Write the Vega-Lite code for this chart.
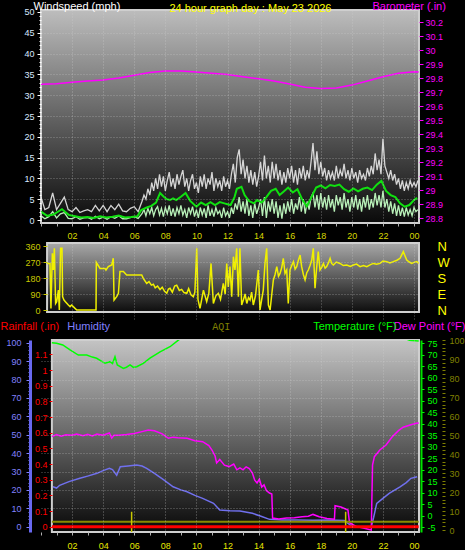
{
 "$schema": "https://vega.github.io/schema/vega-lite/v6.json",
 "background": "#000000",
 "padding": 0,
 "title": {"text": "24 hour graph day : May 23 2026", "color": "#ffff00", "font": "Liberation Sans", "fontSize": 11, "fontWeight": "normal", "anchor": "middle", "dx": 18, "offset": -14},
 "spacing": 20,
 "bounds": "flush",
 "config": {
  "view": {"stroke": null},
  "axis": {"labelOverlap": false, "labelFlush": false, "labelFont": "Liberation Sans Narrow, Liberation Sans, sans-serif", "labelFontSize": 9, "titleFont": "Liberation Sans", "titleFontWeight": "normal", "titleFontSize": 11}
 },
 "datasets": {
  "wind": [{"h":0,"g":5.5,"a":1.0},{"h":0.25,"g":2.5,"a":0.3},{"h":0.5,"g":3.0,"a":0.8},{"h":0.75,"g":6.5,"a":2.0},{"h":1,"g":2.5,"a":0.5},{"h":1.25,"g":4.0,"a":1.5},{"h":1.5,"g":5.5,"a":1.8},{"h":1.75,"g":2.5,"a":0.4},{"h":2,"g":2.0,"a":0.3},{"h":2.25,"g":3.0,"a":0.8},{"h":2.5,"g":1.8,"a":0.2},{"h":2.75,"g":2.2,"a":0.5},{"h":3,"g":2.5,"a":0.6},{"h":3.25,"g":2.0,"a":0.2},{"h":3.5,"g":3.5,"a":0.9},{"h":3.75,"g":2.2,"a":0.3},{"h":4,"g":3.5,"a":0.7},{"h":4.25,"g":2.0,"a":0.2},{"h":4.5,"g":3.5,"a":0.8},{"h":4.75,"g":2.5,"a":0.4},{"h":5,"g":3.8,"a":1.0},{"h":5.25,"g":2.2,"a":0.3},{"h":5.5,"g":2.0,"a":0.3},{"h":5.75,"g":2.8,"a":0.6},{"h":6,"g":3.2,"a":0.8},{"h":6.25,"g":2.0,"a":0.4},
   {"h":6.5,"g":4.5,"a":1.5},{"h":6.625,"g":6.0,"a":2.5},{"h":6.75,"g":5.0,"a":1.0},{"h":6.875,"g":7.5,"a":2.8},{"h":7.0,"g":6.0,"a":1.5},{"h":7.125,"g":9.0,"a":3.0},{"h":7.25,"g":7.0,"a":1.0},{"h":7.375,"g":10.0,"a":2.5},{"h":7.5,"g":7.5,"a":3.2},{"h":7.625,"g":11.0,"a":1.2},{"h":7.75,"g":8.0,"a":2.8},{"h":7.875,"g":10.5,"a":0.8},{"h":8.0,"g":7.0,"a":3.0},{"h":8.125,"g":9.5,"a":1.5},{"h":8.25,"g":11.5,"a":3.5},{"h":8.375,"g":8.0,"a":1.0},{"h":8.5,"g":10.0,"a":2.8},{"h":8.625,"g":7.5,"a":0.8},{"h":8.75,"g":11.0,"a":3.0},{"h":8.875,"g":8.5,"a":1.5},{"h":9.0,"g":10.5,"a":3.5},{"h":9.125,"g":12.0,"a":1.2},{"h":9.25,"g":8.0,"a":2.5},{"h":9.375,"g":10.0,"a":0.5},{"h":9.5,"g":7.0,"a":3.0},{"h":9.625,"g":9.5,"a":1.5},{"h":9.75,"g":11.0,"a":3.2},{"h":9.875,"g":7.5,"a":0.8},{"h":10.0,"g":9.0,"a":2.5},{"h":10.125,"g":6.5,"a":0.5},{"h":10.25,"g":10.5,"a":3.0},{"h":10.375,"g":8.0,"a":1.2},{"h":10.5,"g":11.0,"a":2.8},{"h":10.625,"g":7.5,"a":0.5},{"h":10.75,"g":10.0,"a":3.5},{"h":10.875,"g":8.5,"a":1.0},{"h":11.0,"g":11.5,"a":2.5},{"h":11.125,"g":7.0,"a":0.8},{"h":11.25,"g":10.0,"a":3.0},{"h":11.375,"g":8.0,"a":1.5},{"h":11.5,"g":9.5,"a":2.2},{"h":11.625,"g":7.0,"a":0.5},{"h":11.75,"g":10.5,"a":3.0},{"h":11.875,"g":8.0,"a":1.0},{"h":12.0,"g":9.5,"a":2.0},{"h":12.125,"g":7.5,"a":0.5},{"h":12.25,"g":11.0,"a":3.0},{"h":12.375,"g":13.5,"a":1.5},{"h":12.5,"g":9.0,"a":4.0},{"h":12.625,"g":15.0,"a":2.5},{"h":12.75,"g":17.0,"a":5.5},{"h":12.875,"g":11.0,"a":2.0},{"h":13.0,"g":14.5,"a":4.5},{"h":13.125,"g":10.0,"a":1.5},{"h":13.25,"g":13.0,"a":5.0},{"h":13.375,"g":9.0,"a":1.0},{"h":13.5,"g":12.0,"a":3.5},{"h":13.625,"g":8.5,"a":0.5},{"h":13.75,"g":11.5,"a":4.0},{"h":13.875,"g":8.0,"a":1.5},{"h":14.0,"g":10.5,"a":3.0},{"h":14.125,"g":14.0,"a":5.0},{"h":14.25,"g":9.5,"a":1.0},{"h":14.375,"g":15.5,"a":5.5},{"h":14.5,"g":10.0,"a":0.5},{"h":14.625,"g":13.0,"a":4.5},{"h":14.75,"g":9.0,"a":2.0},{"h":14.875,"g":14.0,"a":5.0},{"h":15.0,"g":10.0,"a":1.5},{"h":15.125,"g":13.5,"a":4.5},{"h":15.25,"g":9.5,"a":0.5},{"h":15.375,"g":12.0,"a":3.5},{"h":15.5,"g":8.5,"a":0.3},{"h":15.625,"g":11.5,"a":4.0},{"h":15.75,"g":9.0,"a":1.5},{"h":15.875,"g":12.5,"a":4.5},{"h":16.0,"g":10.0,"a":2.0},{"h":16.125,"g":13.0,"a":5.0},{"h":16.25,"g":9.0,"a":1.5},{"h":16.375,"g":12.0,"a":4.0},{"h":16.5,"g":8.5,"a":2.5},{"h":16.625,"g":12.5,"a":5.5},{"h":16.75,"g":10.0,"a":2.0},{"h":16.875,"g":13.0,"a":5.0},{"h":17.0,"g":9.5,"a":1.5},{"h":17.125,"g":12.0,"a":4.5},{"h":17.25,"g":10.0,"a":2.5},{"h":17.375,"g":14.0,"a":5.5},{"h":17.5,"g":18.5,"a":6.5},{"h":17.625,"g":12.0,"a":3.0},{"h":17.75,"g":16.5,"a":6.0},{"h":17.875,"g":11.0,"a":2.5},{"h":18.0,"g":14.0,"a":6.5},{"h":18.125,"g":10.5,"a":3.0},{"h":18.25,"g":12.5,"a":5.5},{"h":18.375,"g":9.5,"a":2.5},{"h":18.5,"g":12.0,"a":6.0},{"h":18.625,"g":10.0,"a":3.0},{"h":18.75,"g":11.5,"a":5.0},{"h":18.875,"g":9.5,"a":2.0},{"h":19.0,"g":13.0,"a":6.0},{"h":19.125,"g":10.0,"a":3.5},{"h":19.25,"g":12.0,"a":5.5},{"h":19.375,"g":10.5,"a":2.5},{"h":19.5,"g":13.5,"a":6.5},{"h":19.625,"g":10.0,"a":3.0},{"h":19.75,"g":12.0,"a":5.0},{"h":19.875,"g":9.5,"a":2.0},{"h":20.0,"g":12.5,"a":5.5},{"h":20.125,"g":10.0,"a":3.0},{"h":20.25,"g":11.5,"a":6.0},{"h":20.375,"g":9.0,"a":2.5},{"h":20.5,"g":12.0,"a":5.0},{"h":20.625,"g":10.0,"a":2.0},{"h":20.75,"g":11.0,"a":5.5},{"h":20.875,"g":9.5,"a":3.0},{"h":21.0,"g":12.5,"a":6.0},{"h":21.125,"g":10.5,"a":2.5},{"h":21.25,"g":13.0,"a":5.0},{"h":21.375,"g":11.0,"a":3.0},{"h":21.5,"g":16.0,"a":6.5},{"h":21.625,"g":12.0,"a":3.5},{"h":21.75,"g":14.5,"a":6.0},{"h":21.875,"g":11.0,"a":3.0},{"h":22.0,"g":19.5,"a":7.0},{"h":22.125,"g":13.0,"a":3.0},{"h":22.25,"g":11.5,"a":5.0},{"h":22.375,"g":10.0,"a":2.0},{"h":22.5,"g":12.0,"a":4.5},{"h":22.625,"g":9.5,"a":1.5},{"h":22.75,"g":11.0,"a":4.0},{"h":22.875,"g":8.5,"a":1.0},{"h":23.0,"g":10.0,"a":3.5},{"h":23.125,"g":7.5,"a":1.0},{"h":23.25,"g":9.5,"a":3.0},{"h":23.375,"g":7.0,"a":0.8},{"h":23.5,"g":9.0,"a":3.0},{"h":23.625,"g":7.5,"a":1.2},{"h":23.75,"g":9.5,"a":2.5},{"h":23.875,"g":8.0,"a":1.0},{"h":24.0,"g":9.0,"a":3.0},{"h":24.125,"g":8.0,"a":2.0},{"h":24.25,"g":9.5,"a":2.5}],
  "smooth": [{"h":0,"v":2.0},{"h":0.4,"v":1.0},{"h":0.8,"v":1.3},{"h":1.35,"v":2.6},{"h":1.8,"v":1.2},{"h":2.2,"v":0.9},{"h":2.6,"v":0.6},{"h":3.0,"v":0.7},{"h":3.4,"v":0.5},{"h":3.8,"v":0.9},{"h":4.2,"v":0.6},{"h":4.6,"v":0.8},{"h":5.0,"v":1.1},{"h":5.4,"v":0.6},{"h":5.8,"v":0.7},{"h":6.2,"v":0.9},{"h":6.45,"v":2.4},{"h":6.8,"v":3.0},{"h":7.1,"v":3.4},{"h":7.4,"v":4.2},{"h":7.66,"v":6.5},{"h":7.9,"v":5.6},{"h":8.1,"v":5.0},{"h":8.3,"v":4.8},{"h":8.5,"v":5.2},{"h":8.7,"v":4.8},{"h":9.0,"v":5.6},{"h":9.3,"v":6.5},{"h":9.6,"v":4.6},{"h":10.0,"v":3.2},{"h":10.3,"v":4.2},{"h":10.6,"v":3.6},{"h":10.9,"v":4.3},{"h":11.2,"v":3.6},{"h":11.5,"v":4.3},{"h":11.8,"v":4.0},{"h":12.0,"v":3.8},{"h":12.2,"v":3.6},{"h":12.45,"v":5.5},{"h":12.6,"v":7.5},{"h":12.9,"v":8.0},{"h":13.1,"v":6.0},{"h":13.4,"v":4.5},{"h":13.7,"v":4.0},{"h":13.9,"v":4.8},{"h":14.2,"v":4.2},{"h":14.5,"v":5.5},{"h":14.8,"v":7.0},{"h":15.1,"v":7.5},{"h":15.35,"v":6.0},{"h":15.6,"v":6.8},{"h":15.9,"v":7.8},{"h":16.2,"v":6.6},{"h":16.5,"v":7.4},{"h":16.8,"v":5.0},{"h":17.1,"v":3.3},{"h":17.4,"v":5.5},{"h":17.7,"v":7.8},{"h":18.0,"v":8.3},{"h":18.3,"v":7.6},{"h":18.6,"v":8.4},{"h":18.9,"v":8.2},{"h":19.2,"v":8.5},{"h":19.5,"v":7.4},{"h":19.8,"v":6.8},{"h":20.1,"v":7.6},{"h":20.4,"v":6.9},{"h":20.7,"v":7.5},{"h":21.0,"v":7.8},{"h":21.3,"v":7.2},{"h":21.6,"v":8.5},{"h":21.9,"v":9.4},{"h":22.2,"v":7.0},{"h":22.5,"v":6.0},{"h":22.8,"v":5.5},{"h":23.1,"v":4.0},{"h":23.4,"v":3.2},{"h":23.7,"v":3.6},{"h":24.0,"v":4.8},{"h":24.2,"v":5.3}],
  "baro": [{"h":0,"p":29.757},{"h":1,"p":29.76},{"h":2,"p":29.77},{"h":3,"p":29.78},{"h":4,"p":29.787},{"h":5,"p":29.80},{"h":6,"p":29.82},{"h":7,"p":29.84},{"h":8,"p":29.85},{"h":9,"p":29.85},{"h":10,"p":29.843},{"h":11,"p":29.835},{"h":12,"p":29.825},{"h":13,"p":29.81},{"h":14,"p":29.795},{"h":15,"p":29.78},{"h":16,"p":29.758},{"h":17,"p":29.735},{"h":18,"p":29.725},{"h":19,"p":29.73},{"h":20,"p":29.75},{"h":21,"p":29.78},{"h":22,"p":29.81},{"h":23,"p":29.835},{"h":24,"p":29.845},{"h":24.3,"p":29.843}],
  "dir": [{"h":0.39,"d":262},{"h":0.58,"d":262},{"h":0.64,"d":9},{"h":0.73,"d":319},{"h":0.79,"d":225},{"h":0.86,"d":347},{"h":0.94,"d":37},{"h":1.01,"d":47},{"h":1.12,"d":112},{"h":1.18,"d":0},{"h":1.26,"d":347},{"h":1.35,"d":347},{"h":1.39,"d":75},{"h":1.48,"d":56},{"h":1.57,"d":47},{"h":1.76,"d":28},{"h":1.87,"d":19},{"h":1.97,"d":28},{"h":2.19,"d":9},{"h":2.3,"d":0},{"h":3.54,"d":0},{"h":3.56,"d":268},{"h":3.8,"d":234},{"h":4.12,"d":234},{"h":4.18,"d":225},{"h":4.33,"d":244},{"h":4.55,"d":253},{"h":4.65,"d":291},{"h":4.7,"d":56},{"h":4.87,"d":75},{"h":4.98,"d":94},{"h":5.08,"d":216},{"h":5.3,"d":216},{"h":5.51,"d":197},{"h":6.48,"d":197},{"h":6.58,"d":178},{"h":6.8,"d":150},{"h":6.95,"d":160},{"h":7.1,"d":140},{"h":7.23,"d":145},{"h":7.35,"d":125},{"h":7.5,"d":135},{"h":7.66,"d":115},{"h":7.8,"d":128},{"h":7.95,"d":105},{"h":8.09,"d":94},{"h":8.2,"d":118},{"h":8.3,"d":122},{"h":8.45,"d":100},{"h":8.6,"d":135},{"h":8.73,"d":140},{"h":8.9,"d":110},{"h":9.05,"d":116},{"h":9.2,"d":98},{"h":9.38,"d":94},{"h":9.5,"d":120},{"h":9.65,"d":85},{"h":9.8,"d":75},{"h":9.9,"d":100},{"h":10.02,"d":347},{"h":10.1,"d":60},{"h":10.23,"d":9},{"h":10.45,"d":112},{"h":10.66,"d":47},{"h":10.8,"d":95},{"h":10.94,"d":262},{"h":11.09,"d":37},{"h":11.25,"d":80},{"h":11.41,"d":94},{"h":11.55,"d":60},{"h":11.73,"d":150},{"h":11.85,"d":90},{"h":11.95,"d":262},{"h":12.05,"d":130},{"h":12.16,"d":244},{"h":12.27,"d":75},{"h":12.38,"d":300},{"h":12.48,"d":225},{"h":12.59,"d":347},{"h":12.7,"d":75},{"h":12.8,"d":347},{"h":12.91,"d":28},{"h":13.02,"d":56},{"h":13.13,"d":90},{"h":13.24,"d":37},{"h":13.35,"d":70},{"h":13.45,"d":56},{"h":13.55,"d":100},{"h":13.66,"d":28},{"h":13.8,"d":80},{"h":13.98,"d":225},{"h":14.09,"d":0},{"h":14.2,"d":60},{"h":14.3,"d":112},{"h":14.41,"d":262},{"h":14.52,"d":347},{"h":14.63,"d":28},{"h":14.74,"d":0},{"h":14.85,"d":90},{"h":14.95,"d":169},{"h":15.06,"d":200},{"h":15.17,"d":244},{"h":15.28,"d":190},{"h":15.38,"d":206},{"h":15.49,"d":240},{"h":15.59,"d":291},{"h":15.7,"d":206},{"h":15.81,"d":225},{"h":15.91,"d":37},{"h":16.02,"d":225},{"h":16.13,"d":250},{"h":16.24,"d":272},{"h":16.35,"d":230},{"h":16.45,"d":244},{"h":16.56,"d":280},{"h":16.67,"d":309},{"h":16.77,"d":244},{"h":16.88,"d":200},{"h":16.99,"d":169},{"h":17.1,"d":210},{"h":17.2,"d":225},{"h":17.31,"d":250},{"h":17.42,"d":281},{"h":17.52,"d":347},{"h":17.63,"d":122},{"h":17.74,"d":244},{"h":17.84,"d":328},{"h":17.95,"d":225},{"h":18.06,"d":240},{"h":18.17,"d":262},{"h":18.28,"d":235},{"h":18.38,"d":244},{"h":18.49,"d":265},{"h":18.6,"d":291},{"h":18.7,"d":262},{"h":18.81,"d":253},{"h":19.0,"d":270},{"h":19.24,"d":262},{"h":19.45,"d":250},{"h":19.67,"d":253},{"h":19.9,"d":245},{"h":20.1,"d":253},{"h":20.3,"d":258},{"h":20.53,"d":244},{"h":20.75,"d":250},{"h":20.96,"d":244},{"h":21.2,"d":255},{"h":21.38,"d":262},{"h":21.6,"d":258},{"h":21.81,"d":262},{"h":22.0,"d":275},{"h":22.25,"d":272},{"h":22.45,"d":265},{"h":22.67,"d":272},{"h":22.9,"d":280},{"h":23.1,"d":291},{"h":23.31,"d":328},{"h":23.53,"d":281},{"h":23.7,"d":270},{"h":23.85,"d":262},{"h":24.0,"d":268},{"h":24.18,"d":272},{"h":24.3,"d":262}],
  "temp": [{"h":0.7,"v":75.2},{"h":1.0,"v":75.0},{"h":1.4,"v":74.3},{"h":1.87,"v":72.1},{"h":2.4,"v":69.9},{"h":2.94,"v":69.9},{"h":3.3,"v":69.0},{"h":3.58,"v":68.5},{"h":4.12,"v":66.3},{"h":4.44,"v":67.0},{"h":4.6,"v":66.2},{"h":4.76,"v":69.2},{"h":4.91,"v":65.6},{"h":5.3,"v":64.1},{"h":5.5,"v":64.6},{"h":5.73,"v":65.6},{"h":5.95,"v":64.5},{"h":6.16,"v":64.8},{"h":6.58,"v":66.3},{"h":7.01,"v":68.5},{"h":7.66,"v":71.3},{"h":8.3,"v":73.5},{"h":8.84,"v":76.4},{"h":9.5,"v":79.5},{"h":11,"v":85},{"h":13,"v":88},{"h":15,"v":89},{"h":17,"v":88},{"h":19,"v":86},{"h":21,"v":83},{"h":22.5,"v":79.5},{"h":23.4,"v":77.2},{"h":23.7,"v":76.3},{"h":24.3,"v":76.0}],
  "dew": [{"h":0.7,"v":34.4},{"h":1.0,"v":35.3},{"h":1.3,"v":34.6},{"h":1.6,"v":35.2},{"h":2.0,"v":35.0},{"h":2.3,"v":35.6},{"h":2.7,"v":34.8},{"h":3.0,"v":35.4},{"h":3.3,"v":34.7},{"h":3.6,"v":35.5},{"h":4.0,"v":35.0},{"h":4.4,"v":36.0},{"h":4.55,"v":33.8},{"h":4.7,"v":35.0},{"h":5.0,"v":35.0},{"h":5.5,"v":35.3},{"h":6.0,"v":35.8},{"h":6.5,"v":36.6},{"h":6.9,"v":37.3},{"h":7.3,"v":37.0},{"h":7.8,"v":35.6},{"h":8.2,"v":33.7},{"h":8.5,"v":34.2},{"h":8.8,"v":33.9},{"h":9.4,"v":33.7},{"h":9.9,"v":32.6},{"h":10.4,"v":32.2},{"h":10.8,"v":30.5},{"h":11.0,"v":28.6},{"h":11.2,"v":26.0},{"h":11.3,"v":23.0},{"h":11.5,"v":24.5},{"h":11.8,"v":22.0},{"h":12.1,"v":21.4},{"h":12.4,"v":22.5},{"h":12.6,"v":20.0},{"h":12.8,"v":20.8},{"h":13.0,"v":20.0},{"h":13.2,"v":21.3},{"h":13.4,"v":20.5},{"h":13.6,"v":18.6},{"h":13.75,"v":15.5},{"h":13.9,"v":14.3},{"h":14.05,"v":16.0},{"h":14.2,"v":12.5},{"h":14.35,"v":13.5},{"h":14.5,"v":11.0},{"h":14.7,"v":9.9},{"h":14.85,"v":9.5},{"h":14.9,"v":-1.0},{"h":15.3,"v":-1.4},{"h":15.8,"v":-1.0},{"h":16.3,"v":-0.8},{"h":16.8,"v":-0.4},{"h":17.2,"v":-0.2},{"h":17.5,"v":0.6},{"h":17.9,"v":-0.4},{"h":18.4,"v":-1.2},{"h":18.88,"v":-1.5},{"h":18.92,"v":4.4},{"h":19.3,"v":3.8},{"h":19.75,"v":2.5},{"h":19.85,"v":-3.0},{"h":20.3,"v":-4.7},{"h":20.8,"v":-5.4},{"h":21.25,"v":-6.2},{"h":21.33,"v":22.0},{"h":21.45,"v":25.7},{"h":21.8,"v":28.6},{"h":22.2,"v":30.8},{"h":22.6,"v":34.4},{"h":23.0,"v":37.0},{"h":23.3,"v":38.5},{"h":23.8,"v":39.6},{"h":24.15,"v":40.2},{"h":24.3,"v":40.3}],
  "hum": [{"h":0.77,"v":21.7},{"h":1.0,"v":21.0},{"h":1.2,"v":22.5},{"h":1.8,"v":24.5},{"h":2.5,"v":26.3},{"h":3.0,"v":27.5},{"h":3.6,"v":29.0},{"h":4.0,"v":30.5},{"h":4.4,"v":31.7},{"h":4.6,"v":31.0},{"h":4.87,"v":28.0},{"h":5.1,"v":32.6},{"h":5.6,"v":33.0},{"h":6.15,"v":33.5},{"h":6.5,"v":33.0},{"h":6.8,"v":31.7},{"h":7.3,"v":29.0},{"h":7.9,"v":25.4},{"h":8.5,"v":21.7},{"h":9.0,"v":20.0},{"h":9.4,"v":19.0},{"h":9.9,"v":17.0},{"h":10.4,"v":15.4},{"h":11.1,"v":12.7},{"h":11.5,"v":9.1},{"h":12.15,"v":8.7},{"h":12.8,"v":8.5},{"h":13.6,"v":7.3},{"h":14.2,"v":5.5},{"h":14.7,"v":4.0},{"h":15.5,"v":3.6},{"h":16.5,"v":3.7},{"h":17.5,"v":3.5},{"h":18.5,"v":3.6},{"h":19.5,"v":3.4},{"h":19.9,"v":0.9},{"h":20.3,"v":0},{"h":21.25,"v":0},{"h":21.4,"v":5.0},{"h":21.6,"v":12.7},{"h":22.0,"v":15.4},{"h":22.4,"v":18.1},{"h":23.1,"v":21.7},{"h":23.5,"v":24.0},{"h":23.8,"v":26.3},{"h":24.2,"v":27.2}],
  "rain": [{"h":0.7,"r":0},{"h":24.3,"r":0}],
  "aqi": [{"h":0.7,"a":4.4},{"h":24.3,"a":4.4}],
  "aqispike": [{"h":5.83,"a":9.6},{"h":19.6,"a":9.6}]
 },
 "vconcat": [
  {
   "width": 378, "height": 213,
   "layer": [
    {"data": {"values": [{}]},
     "mark": {"type": "rect", "fill": {"gradient": "linear", "x1": 0, "y1": 0, "x2": 0, "y2": 1, "stops": [{"offset": 0, "color": "#bdbdbd"}, {"offset": 1, "color": "#0a0a0a"}]}, "stroke": "#cfcfcf", "strokeWidth": 2},
     "encoding": {
      "x": {"datum": 0, "type": "quantitative", "scale": {"domain": [0, 24.32], "nice": false, "zero": false},
       "axis": {"values": [0,1,2,3,4,5,6,7,8,9,10,11,12,13,14,15,16,17,18,19,20,21,22,23,24], "tickCount": 500, "labelExpr": "datum.value % 2 == 0 && datum.value > 0 ? (datum.value == 24 ? '00' : (datum.value < 10 ? '0' + datum.value : '' + datum.value)) : ''", "labelOverlap": false, "labelFlush": false, "labelColor": "#d8d800", "labelFontSize": 9, "labelPadding": 5, "tickSize": 3, "tickColor": "#b0b0b0", "domain": false, "grid": true, "gridColor": "#d0d0d0", "gridDash": [1, 2], "gridOpacity": {"condition": {"test": "datum.value % 2 == 0 && datum.value > 0", "value": 0.5}, "value": 0}, "title": null, "zindex": 1}},
      "x2": {"datum": 24.32}
     }},
    {"layer": [
      {"data": {"name": "wind"}, "mark": {"type": "line", "color": "#e8e8e8", "strokeWidth": 1.3, "clip": true, "opacity": 0.9},
       "encoding": {
        "x": {"field": "h", "type": "quantitative", "scale": {"domain": [0, 24.32], "nice": false, "zero": false}},
        "y": {"field": "g", "type": "quantitative", "scale": {"domain": [-0.72, 50.48], "nice": false, "zero": false},
         "axis": {"values": [0,1,2,3,4,5,6,7,8,9,10,11,12,13,14,15,16,17,18,19,20,21,22,23,24,25,26,27,28,29,30,31,32,33,34,35,36,37,38,39,40,41,42,43,44,45,46,47,48,49,50], "tickCount": 500, "labelExpr": "datum.value % 5 == 0 ? '' + datum.value : ''", "labelOverlap": false, "labelColor": "#d8e8ff", "labelFontSize": 9, "labelPadding": 3, "tickColor": "#ffffff", "tickSize": {"condition": {"test": "datum.value % 5 == 0", "value": 4}, "value": 2}, "domain": false, "grid": true, "gridColor": "#d0d0d0", "gridDash": [1, 2], "gridOpacity": {"condition": {"test": "datum.value % 5 == 0 && datum.value > 0 && datum.value < 50", "value": 0.45}, "value": 0}, "title": "Windspeed (mph)", "titleAngle": 0, "titleAlign": "left", "titleBaseline": "middle", "titleX": -8, "titleY": -4, "titleColor": "#ffffff", "zindex": 1}}
       }},
      {"data": {"name": "wind"}, "mark": {"type": "line", "color": "#b8f0b8", "strokeWidth": 1.3, "clip": true},
       "encoding": {
        "x": {"field": "h", "type": "quantitative", "scale": {"domain": [0, 24.32], "nice": false, "zero": false}},
        "y": {"field": "a", "type": "quantitative", "scale": {"domain": [-0.72, 50.48], "nice": false, "zero": false}}
       }},
      {"data": {"name": "smooth"}, "mark": {"type": "line", "color": "#10e010", "strokeWidth": 2, "clip": true},
       "encoding": {
        "x": {"field": "h", "type": "quantitative", "scale": {"domain": [0, 24.32], "nice": false, "zero": false}},
        "y": {"field": "v", "type": "quantitative", "scale": {"domain": [-0.72, 50.48], "nice": false, "zero": false}}
       }}
    ]},
    {"data": {"name": "baro"}, "mark": {"type": "line", "color": "#ff00ff", "strokeWidth": 1.5, "clip": true},
     "encoding": {
      "x": {"field": "h", "type": "quantitative", "scale": {"domain": [0, 24.32], "nice": false, "zero": false}},
      "y": {"field": "p", "type": "quantitative", "scale": {"domain": [28.766, 30.286], "nice": false, "zero": false},
       "axis": {"orient": "right", "values": [28.8,28.9,29,29.1,29.2,29.3,29.4,29.5,29.6,29.7,29.8,29.9,30,30.1,30.2], "tickCount": 500, "labelExpr": "'' + datum.value", "labelOverlap": false, "labelColor": "#ff00ff", "labelFontSize": 9, "labelPadding": 2, "tickColor": "#ff00ff", "tickSize": 4, "domain": false, "grid": false, "title": "Barometer (.in)", "titleAngle": 0, "titleAlign": "left", "titleBaseline": "middle", "titleX": -47, "titleY": -4, "titleColor": "#ff00ff", "zindex": 1}}
     }}
   ],
   "resolve": {"scale": {"y": "independent"}}
  },
  {
   "width": 378, "height": 77,
   "layer": [
    {"data": {"values": [{}]},
     "mark": {"type": "rect", "fill": {"gradient": "linear", "x1": 0, "y1": 0, "x2": 0, "y2": 1, "stops": [{"offset": 0, "color": "#a8a8a8"}, {"offset": 1, "color": "#0d0d0d"}]}, "stroke": "#cfcfcf", "strokeWidth": 2},
     "encoding": {
      "x": {"datum": 0.39, "type": "quantitative", "scale": {"domain": [0, 24.32], "nice": false, "zero": false},
       "axis": {"values": [0,2,4,6,8,10,12,14,16,18,20,22,24], "tickCount": 500, "labels": false, "ticks": false, "domain": false, "grid": true, "gridColor": "#d0d0d0", "gridDash": [1, 2], "gridOpacity": {"condition": {"test": "datum.value > 0", "value": 0.45}, "value": 0}, "title": null, "zindex": 1}},
      "x2": {"datum": 24.32},
      "y": {"datum": -11.25, "type": "quantitative", "scale": {"domain": [-56.25, 376.9], "nice": false, "zero": false},
       "axis": {"orient": "right", "values": [0, 90, 180, 270, 360], "tickCount": 500, "labelExpr": "['N','E','S','W','N'][round(datum.value/90)]", "labelColor": "#ffff00", "labelFont": "Liberation Sans", "labelFontSize": 13, "labelPadding": 18, "labelBaseline": "middle", "labelOverlap": false, "ticks": false, "domain": false, "grid": false, "title": null}},
      "y2": {"datum": 376.9}
     }},
    {"data": {"name": "dir"}, "mark": {"type": "line", "color": "#f0f000", "strokeWidth": 1.5, "clip": true},
     "encoding": {
      "x": {"field": "h", "type": "quantitative", "scale": {"domain": [0, 24.32], "nice": false, "zero": false}},
      "y": {"field": "d", "type": "quantitative", "scale": {"domain": [-56.25, 376.9], "nice": false, "zero": false},
       "axis": {"orient": "left", "offset": -6, "values": [0, 90, 180, 270, 360], "tickCount": 500, "labelExpr": "'' + datum.value", "labelOverlap": false, "labelColor": "#c8c800", "labelFontSize": 9, "labelPadding": 3, "tickColor": "#c8c800", "tickSize": 4, "domain": false, "grid": true, "gridColor": "#d0d0d0", "gridDash": [1, 2], "gridOpacity": {"condition": {"test": "datum.value > 0 && datum.value < 360", "value": 0.45}, "value": 0}, "title": null, "zindex": 1}}
     }}
   ],
   "resolve": {"scale": {"y": "independent"}}
  },
  {
   "width": 378, "height": 192,
   "layer": [
    {"data": {"values": [{}]},
     "mark": {"type": "rect", "fill": {"gradient": "linear", "x1": 0, "y1": 0, "x2": 0, "y2": 1, "stops": [{"offset": 0, "color": "#c4c4c4"}, {"offset": 1, "color": "#080808"}]}, "stroke": "#cfcfcf", "strokeWidth": 2},
     "encoding": {
      "x": {"datum": 0.7, "type": "quantitative", "scale": {"domain": [0, 24.32], "nice": false, "zero": false},
       "axis": {"values": [0,1,2,3,4,5,6,7,8,9,10,11,12,13,14,15,16,17,18,19,20,21,22,23,24], "tickCount": 500, "labelExpr": "datum.value % 2 == 0 && datum.value > 0 ? (datum.value == 24 ? '00' : (datum.value < 10 ? '0' + datum.value : '' + datum.value)) : ''", "labelOverlap": false, "labelFlush": false, "labelColor": "#e8e800", "labelFontSize": 9, "labelPadding": 6, "tickSize": 3, "tickColor": "#b0b0b0", "domain": false, "grid": true, "gridColor": "#d0d0d0", "gridDash": [1, 2], "gridOpacity": {"condition": {"test": "datum.value % 2 == 0 && datum.value > 0", "value": 0.5}, "value": 0}, "title": null, "zindex": 1}},
      "x2": {"datum": 24.32}
     }},
    {"data": {"name": "hum"}, "mark": {"type": "line", "color": "#7070ee", "strokeWidth": 1.5, "clip": true},
     "encoding": {
      "x": {"field": "h", "type": "quantitative", "scale": {"domain": [0, 24.32], "nice": false, "zero": false}},
      "y": {"field": "v", "type": "quantitative", "scale": {"domain": [-2.88, 101.47], "nice": false, "zero": false},
       "axis": {"orient": "left", "offset": 11, "values": [0,2,4,6,8,10,12,14,16,18,20,22,24,26,28,30,32,34,36,38,40,42,44,46,48,50,52,54,56,58,60,62,64,66,68,70,72,74,76,78,80,82,84,86,88,90,92,94,96,98,100], "tickCount": 500, "labelExpr": "datum.value % 10 == 0 ? '' + datum.value : ''", "labelOverlap": false, "labelColor": "#8080ff", "labelFontSize": 9, "labelPadding": 5, "tickColor": "#8080ff", "tickSize": {"condition": {"test": "datum.value % 10 == 0", "value": 4}, "value": 2}, "domain": true, "domainColor": "#6868f0", "domainWidth": 3, "grid": true, "gridColor": "#d0d0d0", "gridDash": [1, 2], "gridOpacity": {"condition": {"test": "datum.value % 10 == 0 && datum.value > 0 && datum.value < 100", "value": 0.45}, "value": 0}, "title": "Humidity", "titleAngle": 0, "titleAlign": "left", "titleBaseline": "middle", "titleX": 36.7, "titleY": -13.3, "titleColor": "#8080ff", "zindex": 1}}
     }},
    {"data": {"name": "dew"}, "mark": {"type": "line", "color": "#ff00ff", "strokeWidth": 1.5, "clip": true},
     "encoding": {
      "x": {"field": "h", "type": "quantitative", "scale": {"domain": [0, 24.32], "nice": false, "zero": false}},
      "y": {"field": "v", "type": "quantitative", "scale": {"domain": [-7.04, 76.43], "nice": false, "zero": false},
       "axis": {"orient": "right", "labels": false, "ticks": false, "domain": false, "grid": false, "title": "Dew Point (°F)", "titleAngle": 0, "titleAlign": "left", "titleBaseline": "middle", "titleX": -25.7, "titleY": -13.3, "titleColor": "#ff00ff"}}
     }},
    {"data": {"name": "temp"}, "mark": {"type": "line", "color": "#00ff00", "strokeWidth": 1.5, "clip": true},
     "encoding": {
      "x": {"field": "h", "type": "quantitative", "scale": {"domain": [0, 24.32], "nice": false, "zero": false}},
      "y": {"field": "v", "type": "quantitative", "scale": {"domain": [-7.04, 76.43], "nice": false, "zero": false},
       "axis": {"orient": "right", "offset": 2, "values": [-5,0,5,10,15,20,25,30,35,40,45,50,55,60,65,70,75], "tickCount": 500, "labelExpr": "'' + datum.value", "labelOverlap": false, "labelColor": "#00ff00", "labelFontSize": 9, "labelPadding": 3, "tickColor": "#00ff00", "tickSize": 3, "domain": true, "domainColor": "#00e000", "domainWidth": 2, "grid": false, "title": "Temperature (°F)", "titleAngle": 0, "titleAlign": "left", "titleBaseline": "middle", "titleX": -108.3, "titleY": -13.3, "titleColor": "#00ff00", "zindex": 1}}
     }},
    {"layer": [
      {"data": {"name": "aqi"}, "mark": {"type": "line", "color": "#8a8a00", "strokeWidth": 2, "clip": true},
       "encoding": {
        "x": {"field": "h", "type": "quantitative", "scale": {"domain": [0, 24.32], "nice": false, "zero": false}},
        "y": {"field": "a", "type": "quantitative", "scale": {"domain": [-1.05, 100], "nice": false, "zero": false},
         "axis": {"orient": "right", "offset": 23, "values": [0,2,4,6,8,10,12,14,16,18,20,22,24,26,28,30,32,34,36,38,40,42,44,46,48,50,52,54,56,58,60,62,64,66,68,70,72,74,76,78,80,82,84,86,88,90,92,94,96,98,100], "tickCount": 500, "labelExpr": "datum.value % 10 == 0 ? '' + datum.value : ''", "labelOverlap": false, "labelColor": "#808000", "labelFontSize": 9, "labelPadding": 4, "tickColor": "#808000", "tickSize": 3, "domain": false, "grid": false, "title": "AQI", "titleAngle": 0, "titleAlign": "left", "titleBaseline": "middle", "titleX": -230.3, "titleY": -13.3, "titleColor": "#808000", "titleFont": "Liberation Mono", "titleFontSize": 10, "zindex": 1}}
       }},
      {"data": {"name": "aqispike"}, "mark": {"type": "rule", "color": "#c8c800", "strokeWidth": 1.5},
       "encoding": {
        "x": {"field": "h", "type": "quantitative", "scale": {"domain": [0, 24.32], "nice": false, "zero": false}},
        "y": {"field": "a", "type": "quantitative", "scale": {"domain": [-1.05, 100], "nice": false, "zero": false}},
        "y2": {"datum": -1.05}
       }}
    ]},
    {"data": {"name": "rain"}, "mark": {"type": "line", "color": "#ff0000", "strokeWidth": 3, "clip": true},
     "encoding": {
      "x": {"field": "h", "type": "quantitative", "scale": {"domain": [0, 24.32], "nice": false, "zero": false}},
      "y": {"field": "r", "type": "quantitative", "scale": {"domain": [-0.0338, 1.1915], "nice": false, "zero": false},
       "axis": {"orient": "left", "offset": -11, "values": [0,0.1,0.2,0.3,0.4,0.5,0.6,0.7,0.8,0.9,1,1.1], "tickCount": 500, "labelExpr": "'' + datum.value", "labelOverlap": false, "labelColor": "#ff0000", "labelFontSize": 9, "labelPadding": 2, "tickColor": "#ff0000", "tickSize": 3, "domain": false, "grid": false, "title": "Rainfall (.in)", "titleAngle": 0, "titleAlign": "left", "titleBaseline": "middle", "titleX": -52, "titleY": -13.3, "titleColor": "#ff0000", "zindex": 1}}
     }}
   ],
   "resolve": {"scale": {"y": "independent"}}
  }
 ]
}
